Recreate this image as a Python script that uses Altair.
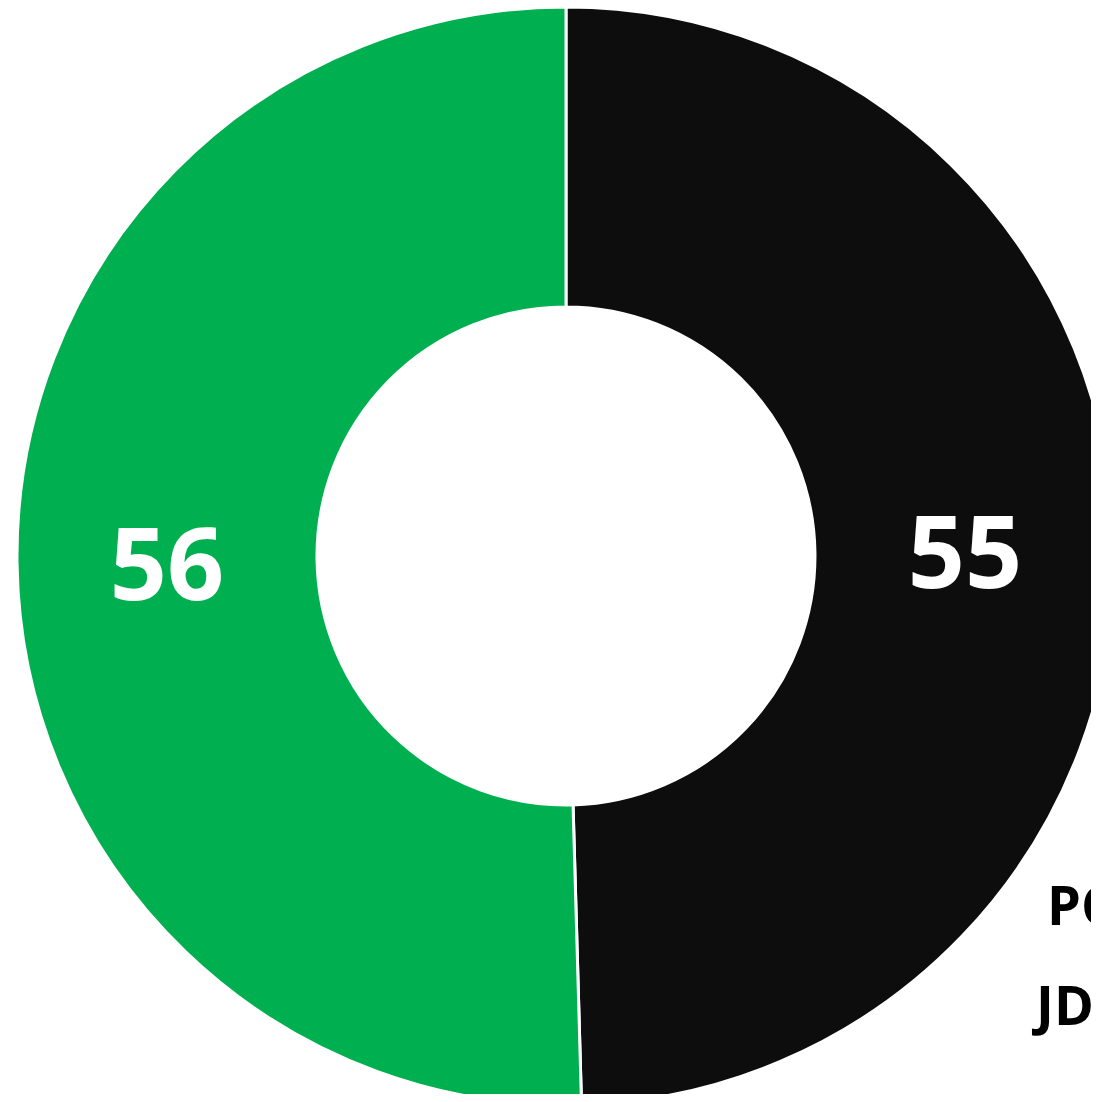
import altair as alt
import pandas as pd

categories = ["PCB", "JDU"]
values = [55, 56]
colors = ["#0d0d0d", "#00b050"]
legend_labels = ["PCB", "JDU"]

df = pd.DataFrame({"party": categories, "seats": values, "order": [0, 1]})

base = alt.Chart(df).encode(
    theta=alt.Theta("seats:Q", stack=True),
    order=alt.Order("order:Q"),
    x=alt.value(558),
    y=alt.value(548),
)

arcs = base.mark_arc(outerRadius=549, innerRadius=249, stroke="white", strokeWidth=3).encode(
    color=alt.Color("party:N", scale=alt.Scale(domain=categories, range=colors), legend=None)
)

labels = base.mark_text(
    radius=399, font="Open Sans", fontWeight="bold", fontSize=100, color="white", dy=8
).encode(text="seats:Q")

leg1 = alt.Chart(pd.DataFrame({"label": [legend_labels[0]]})).mark_text(
    font="Open Sans", fontWeight="bold", fontSize=54, color="black", align="left", baseline="alphabetic"
).encode(text="label:N", x=alt.value(1039), y=alt.value(917))

leg2 = alt.Chart(pd.DataFrame({"label": [legend_labels[1]]})).mark_text(
    font="Open Sans", fontWeight="bold", fontSize=54, color="black", align="left", baseline="alphabetic"
).encode(text="label:N", x=alt.value(1028), y=alt.value(1017))

chart = alt.layer(arcs, labels, leg1, leg2).properties(
    width=1083, height=1086, autosize=alt.AutoSizeParams(type="none"), padding=0
).configure_view(stroke=None)

chart.save("out.html", embed_options={"renderer": "svg", "actions": False})
